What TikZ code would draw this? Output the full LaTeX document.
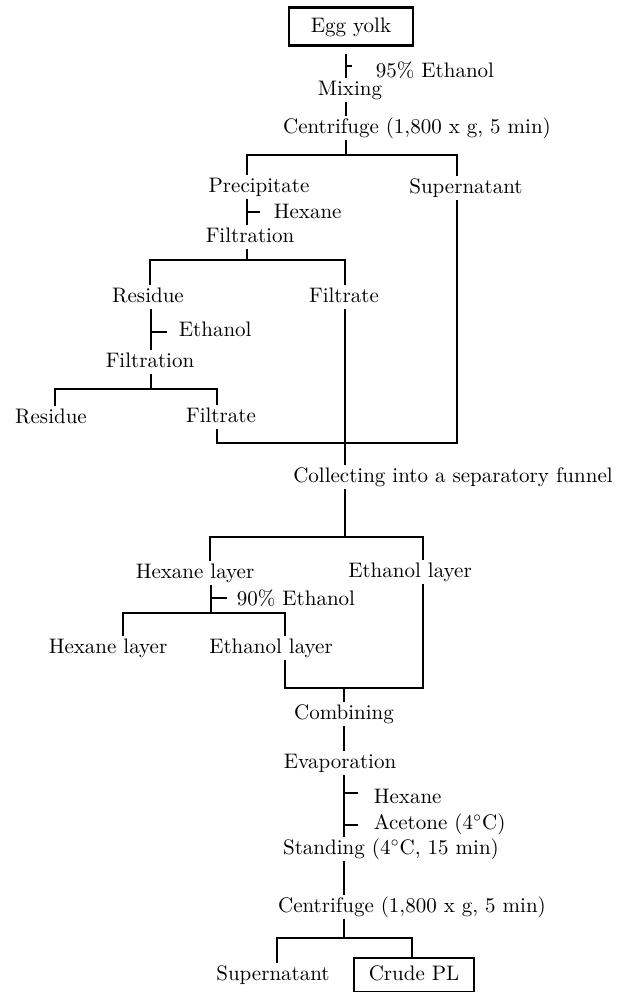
\documentclass[tikz,border=0pt]{standalone}
\usepackage{tikz}

\begin{document}
\begin{tikzpicture}[x=0.5pt,y=-0.5pt,line width=0.9pt,
                    every node/.style={inner xsep=1pt,inner ysep=1.5pt,
                            font=\fontsize{10.5}{12}\selectfont,
                            text height=1.6ex,text depth=.25ex}]
                    \tikzstyle{box}=[draw,line width=1.3pt,minimum height=19pt]
                    \tikzstyle{add}=[anchor=west]

  \useasboundingbox (0,0) rectangle (635,992);

  % steps
  \node (egg) [box,minimum width=62pt] at (351,26.5) {Egg yolk};
  \node (eth95) [add,inner xsep=11.5pt] at (352,72) {95\% Ethanol};
  \node (mix) at (350,90) {Mixing};
  \node (cent1) at (417,128) {Centrifuge (1,800 x g, 5 min)};
  \node (prec) at (259,187) {Precipitate};
  \node (super1) at (466,188) {Supernatant};
  \node (hex1) [add,inner xsep=6.5pt] at (260,213) {Hexane};
  \node (filt1) at (250,237) {Filtration};
  \node (res1) at (148,297) {Residue};
  \node (filtr1) at (344,297) {Filtrate};
  \node (eth1) [add,inner xsep=5.5pt] at (167,331) {Ethanol};
  \node (filt2) at (150,362) {Filtration};
  \node (res2) at (51,418) {Residue};
  \node (filtr2) at (221,417) {Filtrate};
  \node (coll) at (453,477) {Collecting into a separatory funnel};
  \node (hexl1) at (195,573) {Hexane layer};
  \node (ethl1) at (410,572) {Ethanol layer};
  \node (eth90) [add,inner xsep=4.5pt] at (227,600) {90\% Ethanol};
  \node (hexl2) at (108,648) {Hexane layer};
  \node (ethl2) at (271,648) {Ethanol layer};
  \node (comb) at (344,714) {Combining};
  \node (evap) at (340,763) {Evaporation};
  \node (hex2) [add,inner xsep=7.5pt] at (358,798) {Hexane};
  \node (acet) [add,inner xsep=7.5pt] at (358,824) {Acetone (4$^{\circ}$C)};
  \node (stand) at (391,849) {Standing (4$^{\circ}$C, 15 min)};
  \node (cent2) at (412,907) {Centrifuge (1,800 x g, 5 min)};
  \node (super2) at (273,975) {Supernatant};
  \node (crude) [box,minimum width=60pt,minimum height=17pt] at (414,975) {Crude PL};

  % joints
  \coordinate (t1) at (346,66);
  \coordinate (j1) at (346,155);
  \coordinate (j1l) at (247,155);
  \coordinate (j1r) at (457,155);
  \coordinate (t2) at (247,212);
  \coordinate (j2) at (247,260);
  \coordinate (j2l) at (150,260);
  \coordinate (j2r) at (345,260);
  \coordinate (t3) at (151,332);
  \coordinate (j3) at (151,389);
  \coordinate (j3l) at (55,389);
  \coordinate (j3r) at (217,389);
  \coordinate (j4) at (345,443);
  \coordinate (j4l) at (217,443);
  \coordinate (j4r) at (457,443);
  \coordinate (j5) at (345,537);
  \coordinate (j5l) at (210,537);
  \coordinate (j5r) at (423,537);
  \coordinate (t4) at (211,598);
  \coordinate (j6) at (211,613);
  \coordinate (j6l) at (123,613);
  \coordinate (j6r) at (285,613);
  \coordinate (j7) at (344,688);
  \coordinate (j7l) at (285,688);
  \coordinate (j7r) at (423,688);
  \coordinate (t5) at (344,793);
  \coordinate (t6) at (344,825);
  \coordinate (j8) at (344,938);
  \coordinate (j8l) at (277,938);
  \coordinate (j8r) at (412,938);

  \draw[shorten <=3.5pt] (egg.south -| t1) -- (mix.north -| t1);
  \draw (t1) -- (t1 -| eth95.west);
  \draw (mix.south -| t1) -- (cent1.north -| t1);
  \draw (cent1.south -| j1) -- (j1);
  \draw (prec.north -| j1l) -- (j1l) -- (j1r) -- (super1.north -| j1r);

  \draw (prec.south -| t2) -- (filt1.north -| t2);
  \draw (t2) -- (t2 -| hex1.west);
  \draw (filt1.south -| j2) -- (j2);
  \draw (res1.north -| j2l) -- (j2l) -- (j2r) -- (filtr1.north -| j2r);

  \draw (res1.south -| t3) -- (filt2.north -| t3);
  \draw (t3) -- (t3 -| eth1.west);
  \draw (filt2.south -| j3) -- (j3);
  \draw (res2.north -| j3l) -- (j3l) -- (j3r) -- (filtr2.north -| j3r);

  \draw (filtr2.south -| j4l) -- (j4l) -- (j4r) -- (super1.south -| j4r);
  \draw (filtr1.south -| j4) -- (coll.north -| j4);

  \draw (coll.south -| j5) -- (j5);
  \draw (hexl1.north -| j5l) -- (j5l) -- (j5r) -- (ethl1.north -| j5r);

  \draw (hexl1.south -| j6) -- (j6);
  \draw (t4) -- (t4 -| eth90.west);
  \draw (hexl2.north -| j6l) -- (j6l) -- (j6r) -- (ethl2.north -| j6r);

  \draw (ethl2.south -| j7l) -- (j7l) -- (j7r) -- (ethl1.south -| j7r);
  \draw (j7) -- (comb.north -| j7);
  \draw (comb.south -| j7) -- (evap.north -| j7);
  \draw (evap.south -| t5) -- (stand.north -| t5);
  \draw (t5) -- (t5 -| hex2.west);
  \draw (t6) -- (t6 -| acet.west);
  \draw (stand.south -| t5) -- (cent2.north -| t5);

  \draw (cent2.south -| j8) -- (j8);
  \draw (super2.north -| j8l) -- (j8l) -- (j8r) -- (crude.north -| j8r);

\end{tikzpicture}
\end{document}
